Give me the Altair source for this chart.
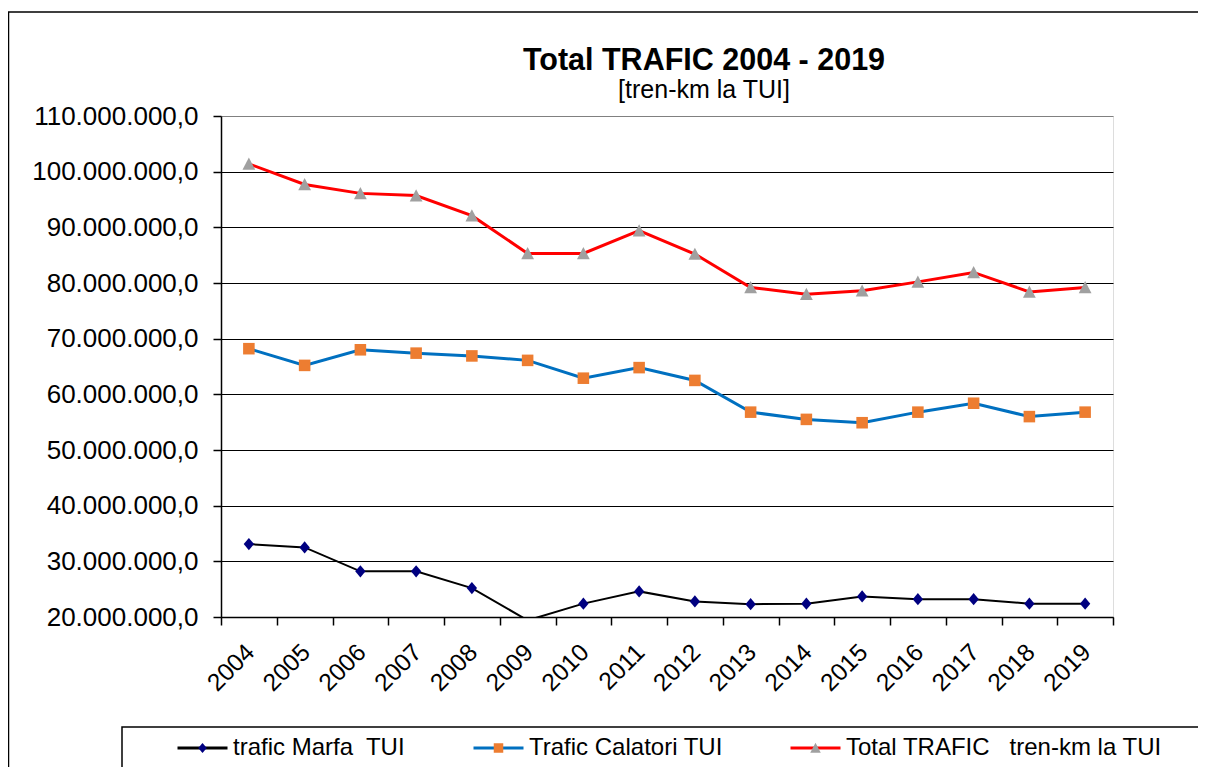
import altair as alt
import pandas as pd

years = ["2004", "2005", "2006", "2007", "2008", "2009", "2010", "2011",
         "2012", "2013", "2014", "2015", "2016", "2017", "2018", "2019"]

marfa = [33100000, 32500000, 28200000, 28200000, 25200000, 19400000, 22400000, 24600000,
         22800000, 22300000, 22400000, 23700000, 23200000, 23200000, 22400000, 22400000]
calatori = [68200000, 65200000, 68000000, 67400000, 66900000, 66100000, 62900000, 64800000,
            62500000, 56800000, 55500000, 54900000, 56800000, 58400000, 56000000, 56800000]
total = [101400000, 97700000, 96100000, 95700000, 92100000, 85300000, 85300000, 89400000,
         85200000, 79200000, 78000000, 78600000, 80200000, 81900000, 78400000, 79200000]

series_names = ["trafic Marfa\u00a0 TUI", "Trafic Calatori TUI",
                "Total TRAFIC\u00a0\u00a0 tren-km la TUI"]
line_colors = ["#000000", "#0070C0", "#FF0000"]
marker_colors = ["#000080", "#ED7D31", "#A0A0A0"]
marker_paths = ["M0,-0.2L0.17,0L0,0.2L-0.17,0Z",
                "M-0.19,-0.19H0.19V0.19H-0.19Z",
                "M0,-0.21L0.21,0.19H-0.21Z"]
y_ticks = [20000000, 30000000, 40000000, 50000000, 60000000,
           70000000, 80000000, 90000000, 100000000, 110000000]

rows = []
for name, vals in zip(series_names, [marfa, calatori, total]):
    for yr, v in zip(years, vals):
        rows.append({"year": yr, "series": name, "series_m": name, "value": v})
df = pd.DataFrame(rows)

FONT = "Liberation Sans"

x_enc = alt.X(
    "year:O",
    sort=years,
    title=None,
    scale=alt.Scale(type="band", paddingInner=0, paddingOuter=0),
    axis=alt.Axis(
        tickBand="extent", grid=False,
        domainColor="#000000", domainWidth=1.5,
        tickColor="#000000", tickWidth=1.5, tickSize=8,
        labelAngle=-45, labelAlign="right", labelBaseline="top",
        labelPadding=15, labelOffset=-7,
        labelFont=FONT, labelFontSize=24.5, labelColor="#000000",
    ),
)
y_enc = alt.Y(
    "value:Q",
    title=None,
    scale=alt.Scale(domain=[20000000, 110000000], nice=False, zero=False),
    axis=alt.Axis(
        values=y_ticks,
        labelExpr="format(datum.value / 1000000, 'd') + '.000.000,0'",
        domainColor="#000000", domainWidth=1.5,
        tickColor="#000000", tickWidth=1.5, tickSize=8,
        grid=True,
        gridColor={"condition": {"test": "datum.value >= 110000000", "value": "#808080"},
                   "value": "#000000"},
        gridWidth=1.2,
        labelPadding=15, labelFont=FONT, labelFontSize=26, labelColor="#000000",
    ),
)

legend_common = dict(
    orient="none", legendX=-45, legendY=620, direction="horizontal",
    title=None, padding=0, columnPadding=66, labelOffset=4,
    symbolSize=2500, symbolStrokeWidth=3, clipHeight=24,
    labelFont=FONT, labelFontSize=24, labelColor="#000000", labelLimit=600,
)

lines = alt.Chart(df).mark_line(clip=True).encode(
    x=x_enc,
    y=y_enc,
    color=alt.Color(
        "series:N", sort=series_names,
        scale=alt.Scale(range=line_colors),
        legend=alt.Legend(symbolType="stroke", **legend_common),
    ),
    strokeWidth=alt.condition(alt.datum.series == series_names[0], alt.value(2), alt.value(3)),
)

marker_legend = alt.Legend(labelOpacity=0, symbolStrokeColor="transparent", **legend_common)
points = alt.Chart(df).transform_filter(
    alt.datum.value >= 20000000
).mark_point(filled=True, size=3700, opacity=1, clip=True).encode(
    x=x_enc,
    y=y_enc,
    fill=alt.Fill(
        "series_m:N",
        scale=alt.Scale(domain=series_names, range=marker_colors),
        legend=marker_legend,
    ),
    shape=alt.Shape(
        "series_m:N",
        scale=alt.Scale(domain=series_names, range=marker_paths),
        legend=marker_legend,
    ),
)

box_df = pd.DataFrame({"k": [0]})
outer_frame = alt.Chart(box_df).mark_rect(
    fill="transparent", stroke="#000000", strokeWidth=1.5
).encode(x=alt.value(-212.5), x2=alt.value(1100), y=alt.value(-104), y2=alt.value(700))
legend_frame = alt.Chart(box_df).mark_rect(
    fill="transparent", stroke="#000000", strokeWidth=1.5
).encode(x=alt.value(-99), x2=alt.value(1100), y=alt.value(611), y2=alt.value(653))

chart = alt.layer(outer_frame, legend_frame, lines, points).properties(
    width=892,
    height=501,
    autosize=alt.AutoSizeParams(type="none"),
    padding={"left": 213, "top": 108, "right": 85, "bottom": 150},
    title=alt.TitleParams(
        text="Total TRAFIC 2004 - 2019",
        subtitle="[tren-km la TUI]",
        font=FONT, fontSize=30.5, fontWeight="bold", color="#000000",
        subtitleFont=FONT, subtitleFontSize=25, subtitleColor="#000000",
        subtitlePadding=2, anchor="middle", dx=37, dy=100, offset=8,
    ),
).configure_view(
    fill="#C0C0C0", stroke="#808080", strokeWidth=2
).configure(background="#FFFFFF")

chart.save("out.html", embed_options={"renderer": "svg", "actions": False})
